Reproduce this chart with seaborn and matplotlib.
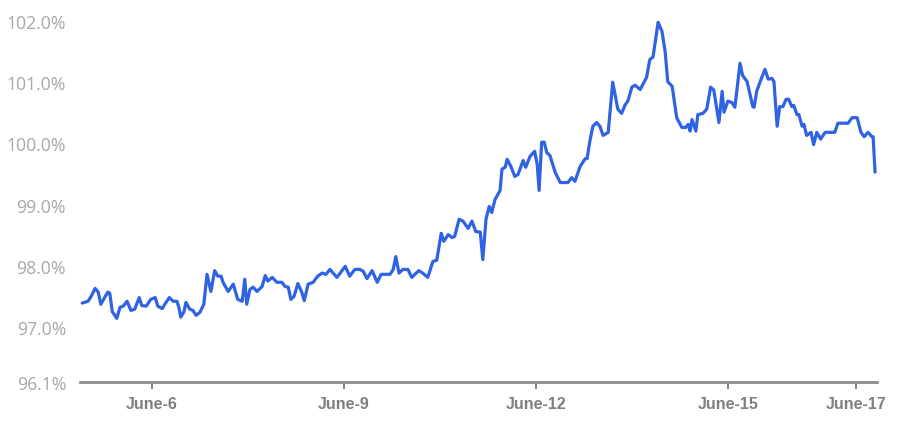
import numpy as np
import pandas as pd
import matplotlib
matplotlib.use("Agg")
import matplotlib.pyplot as plt
import seaborn as sns

# x position in days of June, value in %
day = [4.91, 5.00, 5.05, 5.11, 5.16, 5.20, 5.27, 5.31, 5.34, 5.38, 5.45, 5.50, 5.55, 5.61, 5.67,
       5.73, 5.80, 5.84, 5.91, 5.98, 6.05, 6.09, 6.16, 6.20, 6.27, 6.33, 6.39, 6.42, 6.45, 6.50,
       6.53, 6.59, 6.64, 6.69, 6.75, 6.81, 6.86, 6.92, 6.98, 7.03, 7.08,
       7.11, 7.19, 7.27, 7.34, 7.41, 7.45, 7.48, 7.53, 7.58, 7.64, 7.72, 7.77, 7.81, 7.88, 7.95,
       8.03, 8.08, 8.13, 8.17, 8.22, 8.28, 8.34, 8.38, 8.44, 8.52, 8.59, 8.66, 8.72, 8.78, 8.83,
       8.89, 8.94, 9.02, 9.09, 9.17,
       9.25, 9.30, 9.36, 9.44, 9.52, 9.58, 9.72, 9.77, 9.81, 9.86, 9.92, 10.00, 10.06, 10.13,
       10.17, 10.23, 10.31, 10.39, 10.45, 10.52, 10.56, 10.63, 10.69, 10.73, 10.80, 10.86, 10.94,
       11.00, 11.06, 11.13, 11.17, 11.22, 11.27, 11.31, 11.36,
       11.44, 11.47, 11.52, 11.55, 11.61, 11.67, 11.72, 11.80, 11.84, 11.91, 11.98, 12.02, 12.05,
       12.09, 12.13, 12.17, 12.22, 12.30, 12.38, 12.50, 12.56, 12.61, 12.69, 12.77, 12.80, 12.84,
       12.89, 12.95, 13.00, 13.05, 13.13, 13.20, 13.28, 13.34, 13.39, 13.44, 13.50, 13.55, 13.63,
       13.73, 13.78, 13.83, 13.91, 13.97, 14.02, 14.06, 14.13, 14.20, 14.28, 14.34, 14.38, 14.41,
       14.44, 14.50, 14.53, 14.61, 14.67, 14.73, 14.78, 14.86, 14.91, 14.94, 15.00, 15.06, 15.11,
       15.19, 15.23, 15.30, 15.39, 15.41, 15.45, 15.53, 15.58, 15.63, 15.69, 15.72, 15.77, 15.81,
       15.86, 15.91, 15.95, 16.00, 16.03, 16.08, 16.11, 16.16, 16.19, 16.23, 16.30, 16.34, 16.39,
       16.45, 16.52, 16.67, 16.72, 16.88, 16.94, 17.02, 17.08, 17.13, 17.19, 17.25, 17.27, 17.30]

value = [97.39, 97.42, 97.50, 97.63, 97.57, 97.37, 97.50, 97.57, 97.55, 97.25, 97.14, 97.32, 97.34, 97.42, 97.27,
         97.29, 97.48, 97.35, 97.34, 97.45, 97.48, 97.34, 97.30, 97.37, 97.48, 97.42, 97.42, 97.32, 97.16, 97.25,
         97.40, 97.29, 97.27, 97.19, 97.24, 97.37, 97.86, 97.58, 97.92, 97.83, 97.83,
         97.73, 97.58, 97.70, 97.45, 97.42, 97.78, 97.37, 97.61, 97.65, 97.58, 97.66, 97.84, 97.75, 97.81, 97.73,
         97.73, 97.66, 97.65, 97.45, 97.50, 97.71, 97.57, 97.43, 97.70, 97.73, 97.83, 97.88, 97.86, 97.94, 97.88,
         97.81, 97.88, 97.99, 97.83, 97.94,
         97.94, 97.91, 97.79, 97.92, 97.73, 97.86, 97.86, 97.94, 98.15, 97.88, 97.94, 97.94, 97.81, 97.88,
         97.92, 97.88, 97.81, 98.07, 98.09, 98.53, 98.40, 98.51, 98.46, 98.48, 98.76, 98.73, 98.61,
         98.73, 98.56, 98.55, 98.10, 98.76, 98.97, 98.87, 99.08,
         99.23, 99.58, 99.61, 99.74, 99.62, 99.46, 99.49, 99.72, 99.61, 99.79, 99.87, 99.66, 99.23,
         100.02, 100.02, 99.85, 99.80, 99.53, 99.36, 99.36, 99.44, 99.38, 99.62, 99.75, 99.75, 100.02,
         100.28, 100.34, 100.28, 100.13, 100.18, 101.00, 100.56, 100.49, 100.62, 100.70, 100.92, 100.95, 100.88,
         101.08, 101.37, 101.41, 101.98, 101.83, 101.50, 101.01, 100.93, 100.42, 100.26, 100.26, 100.31, 100.20,
         100.39, 100.20, 100.47, 100.49, 100.56, 100.92, 100.87, 100.34, 100.85, 100.51, 100.69, 100.67, 100.59,
         101.31, 101.11, 101.01, 100.60, 100.59, 100.85, 101.08, 101.21, 101.05, 101.06, 101.01, 100.28, 100.60,
         100.60, 100.72, 100.72, 100.60, 100.62, 100.47, 100.47, 100.28, 100.31, 100.13, 100.18, 99.98, 100.18,
         100.07, 100.18, 100.18, 100.33, 100.33, 100.42, 100.42, 100.18, 100.11, 100.18, 100.11, 100.11, 99.53]

x_ticks = [6, 9, 12, 15, 17]
x_tick_labels = ["June-6", "June-9", "June-12", "June-15", "June-17"]
y_ticks = [96.1, 97.0, 98.0, 99.0, 100.0, 101.0, 102.0]
y_tick_labels = ["96.1%", "97.0%", "98.0%", "99.0%", "100.0%", "101.0%", "102.0%"]

df = pd.DataFrame({"day": day, "value": value})

sns.set_style("white")
fig = plt.figure(figsize=(9, 4.27), dpi=100)
ax = fig.add_axes([0.0889, 0.103, 0.8855, 0.8455])

sns.lineplot(data=df, x="day", y="value", ax=ax, color="#2f63e3", linewidth=2.3)

ax.set_xlim(4.875, 17.33)
ax.set_ylim(96.1, 102.0)
ax.set_xlabel("")
ax.set_ylabel("")

ax.set_yticks(y_ticks)
ax.set_yticklabels(y_tick_labels, fontsize=12.7, color="#a8a8a8", family=["Open Sans", "DejaVu Sans"])
ax.set_xticks(x_ticks)
ax.set_xticklabels(x_tick_labels, fontsize=11.5, fontweight="bold", color="#7f7f7f",
                   family=["Liberation Sans", "DejaVu Sans"])

ax.tick_params(axis="y", left=False, length=0, pad=10)
ax.tick_params(axis="x", bottom=True, length=5, width=1.5, color="#8c8c8c", pad=5, direction="out")

for s in ["top", "right", "left"]:
    ax.spines[s].set_visible(False)
ax.spines["bottom"].set_color("#8c8c8c")
ax.spines["bottom"].set_linewidth(2)
ax.grid(False)

fig.savefig("out.png", dpi=100)
